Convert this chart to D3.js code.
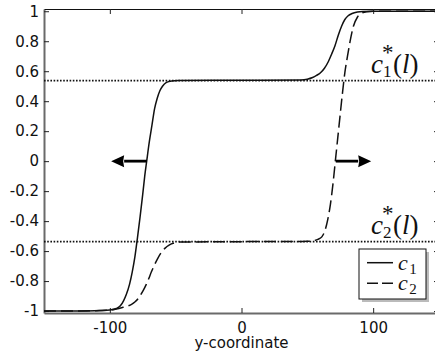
<!DOCTYPE html>
<html>
<head>
<meta charset="utf-8">
<script src="https://cdn.jsdelivr.net/npm/d3@7"></script>
<style>
  body { margin: 0; background: #fff; }
  svg { display: block; }
  .tick text { font-family: "DejaVu Sans", sans-serif; font-size: 15px; fill: #111; }
  .math { font-family: "Liberation Serif", "DejaVu Serif", serif; fill: #111; }
  .axis-label { font-family: "DejaVu Sans", sans-serif; font-size: 15px; fill: #111; }
</style>
</head>
<body>
<div id="plot"></div>
<script>
// solid curve c1
const c1X = [-150, -120, -108, -100, -95, -92, -89.5, -87.5, -85, -83, -81, -79, -77, -75, -73.5, -72,
  -70, -68, -66, -64, -62, -60, -57, -53, -48, 0, 45, 50, 54, 57, 60, 63, 66, 68.5, 71, 73.5, 76,
  78.5, 81, 84, 88, 92, 100, 150];
const c1Y = [-1, -1, -0.997, -0.993, -0.983, -0.965, -0.93, -0.89, -0.82, -0.74, -0.64, -0.51, -0.37, -0.22, -0.1, 0,
  0.13, 0.24, 0.35, 0.42, 0.47, 0.5, 0.525, 0.535, 0.538, 0.54, 0.542, 0.547, 0.558, 0.572, 0.59, 0.62, 0.665, 0.715, 0.77, 0.84, 0.9,
  0.945, 0.97, 0.985, 0.995, 0.999, 1, 1];

// dashed curve c2
const c2X = [-150, -110, -100, -95, -90, -86, -83.5, -81, -78.5, -76.5, -74.5, -72.5, -70.5, -68.5, -66.5, -64,
  -61, -58, -55, -52, -48, 0, 50, 55, 58, 61, 63.5, 65.5, 67.5, 69.5, 71.5, 74, 76.5, 78.5, 80.5, 82.5,
  85, 88, 91, 95, 100, 150];
const c2Y = [-1, -0.998, -0.993, -0.986, -0.975, -0.965, -0.955, -0.94, -0.917, -0.89, -0.86, -0.825, -0.785, -0.74, -0.7, -0.655,
  -0.61, -0.58, -0.56, -0.548, -0.54, -0.537, -0.535, -0.53, -0.522, -0.505, -0.46, -0.39, -0.29, -0.15, 0.02, 0.23, 0.44, 0.59, 0.7, 0.8,
  0.9, 0.96, 0.985, 0.997, 1, 1];

// threshold levels c1*(l), c2*(l)
const levelSubs = ["1", "2"];
const levelValues = [0.537, -0.537];

// arrows at y = 0 showing front motion
const arrowFrom = [-72, 71.6];
const arrowTo = [-99, 98.5];

const xTicks = [-100, 0, 100];
const yTicks = [-1, -0.8, -0.6, -0.4, -0.2, 0, 0.2, 0.4, 0.6, 0.8, 1];
const legendSubs = ["1", "2"];

const margin = { top: 9, right: -4, bottom: 38, left: 44 };
const width = 435 - margin.left - margin.right;
const height = 351 - margin.top - margin.bottom;

const svg = d3.select("#plot")
  .append("svg")
  .attr("width", 435)
  .attr("height", 351)
  .append("g")
  .attr("transform", `translate(${margin.left},${margin.top})`);

const x = d3.scaleLinear().domain([-150, 150]).range([0, width]);
const y = d3.scaleLinear().domain([-1.013, 1.015]).range([height, 0]);

const fmt = d => (d === 0 ? "0" : String(+d.toFixed(1)));

// axes with inward ticks on all four sides
const bottomAxis = svg.append("g")
  .attr("transform", `translate(0,${height})`)
  .call(d3.axisBottom(x).tickValues(xTicks).tickSizeInner(-5).tickSizeOuter(0).tickPadding(9).tickFormat(d3.format("d")));
const leftAxis = svg.append("g")
  .call(d3.axisLeft(y).tickValues(yTicks).tickSizeInner(-5).tickSizeOuter(0).tickPadding(5).tickFormat(fmt));
const topAxis = svg.append("g")
  .call(d3.axisTop(x).tickValues(xTicks).tickSizeInner(-5).tickSizeOuter(0).tickFormat(""));
const rightAxis = svg.append("g")
  .attr("transform", `translate(${width},0)`)
  .call(d3.axisRight(y).tickValues(yTicks).tickSizeInner(-5).tickSizeOuter(0).tickFormat(""));

[bottomAxis, leftAxis].forEach(a => {
  a.select(".domain").attr("stroke", "#6a6a6a").attr("stroke-width", 2);
});
[topAxis, rightAxis].forEach(a => {
  a.select(".domain").attr("stroke", "#111").attr("stroke-width", 1);
});
svg.selectAll(".tick line").attr("stroke", "#222");
bottomAxis.selectAll(".tick text").text(d => String(d).replace("\u2212", "-"));

// x label
svg.append("text")
  .attr("class", "axis-label")
  .attr("x", x(0))
  .attr("y", height + 35)
  .style("text-anchor", "middle")
  .text("y-coordinate");

// dotted threshold lines
svg.selectAll(".level")
  .data(levelValues)
  .enter()
  .append("line")
  .attr("class", "level")
  .attr("x1", x(-150))
  .attr("x2", x(150))
  .attr("y1", d => y(d))
  .attr("y2", d => y(d))
  .attr("stroke", "#111")
  .attr("stroke-width", 1.6)
  .attr("stroke-dasharray", "1.6,1.6");

// curves
const line = d3.line()
  .x(d => x(d[0]))
  .y(d => y(d[1]))
  .curve(d3.curveMonotoneX);

svg.append("path")
  .datum(c1X.map((v, i) => [v, c1Y[i]]))
  .attr("fill", "none")
  .attr("stroke", "#111")
  .attr("stroke-width", 1.5)
  .attr("d", line);

svg.append("path")
  .datum(c2X.map((v, i) => [v, c2Y[i]]))
  .attr("fill", "none")
  .attr("stroke", "#111")
  .attr("stroke-width", 1.5)
  .attr("stroke-dasharray", "12,5")
  .attr("d", line);

// arrows
arrowFrom.forEach((from, i) => {
  const x0 = x(from), x1 = x(arrowTo[i]), y0 = y(0);
  const dir = Math.sign(x1 - x0);
  const headLen = 13;
  svg.append("line")
    .attr("x1", x0).attr("x2", x1 - dir * headLen)
    .attr("y1", y0).attr("y2", y0)
    .attr("stroke", "#000")
    .attr("stroke-width", 2.8);
  svg.append("path")
    .attr("d", `M${x1},${y0} L${x1 - dir * headLen},${y0 - 6} L${x1 - dir * (headLen - 1)},${y0} L${x1 - dir * headLen},${y0 + 6} Z`)
    .attr("fill", "#000");
});

// c*(l) labels, one text element each (superscript and subscript stacked)
function starLabel(px, py, sub) {
  const t = svg.append("text").attr("class", "math")
    .attr("x", px).attr("y", py).style("font-size", "27px");
  t.append("tspan").style("font-style", "italic").text("c");
  t.append("tspan").attr("dx", -1).attr("dy", -13).style("font-size", "23px").text("*");
  t.append("tspan").attr("dx", -10.5).attr("dy", 17).style("font-size", "17px").text(sub);
  t.append("tspan").attr("dx", 1.5).attr("dy", -4).text("(");
  t.append("tspan").style("font-style", "italic").text("l");
  t.append("tspan").text(")");
}
levelValues.forEach((v, i) => {
  starLabel(371 - margin.left, y(v) - 8, levelSubs[i]);
});

// legend
const legend = svg.append("g")
  .attr("transform", `translate(${359 - margin.left},${249 - margin.top})`);
legend.append("rect")
  .attr("x", 3).attr("y", 3).attr("width", 67).attr("height", 50)
  .attr("fill", "#bbb");
legend.append("rect")
  .attr("width", 67).attr("height", 50)
  .attr("fill", "#fff").attr("stroke", "#111").attr("stroke-width", 1);

const legendItems = legend.selectAll(".legend-item")
  .data(legendSubs)
  .enter()
  .append("g")
  .attr("class", "legend-item")
  .attr("transform", (d, i) => `translate(0,${13.7 + i * 20.6})`);

legendItems.append("line")
  .attr("x1", 8).attr("x2", 34)
  .attr("stroke", "#111").attr("stroke-width", 1.5)
  .attr("stroke-dasharray", (d, i) => (i === 0 ? null : "11,4"));

const legendText = legendItems.append("text")
  .attr("class", "math")
  .attr("x", 39).attr("y", 7)
  .style("font-size", "22px");
legendText.append("tspan").style("font-style", "italic").text("c");
legendText.append("tspan").attr("dx", 1.5).attr("dy", 4).style("font-size", "15px").text(d => d);
</script>
</body>
</html>
